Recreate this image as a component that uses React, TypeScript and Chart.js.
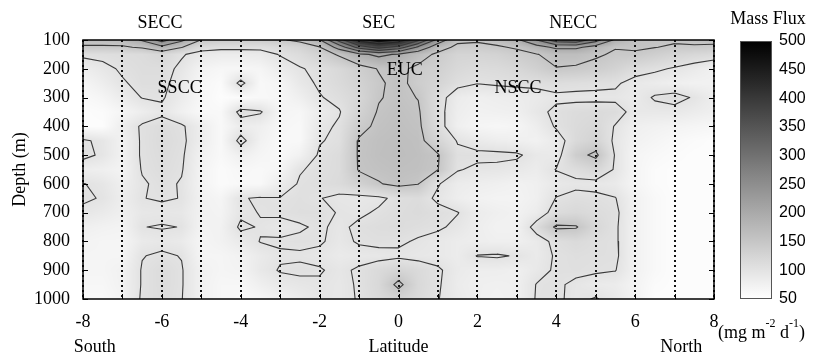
import { useEffect, useRef } from 'react';
import { Chart, registerables } from 'chart.js';

Chart.register(...registerables);

// ---------- data ----------
const LATS = [-8, -7.5, -7, -6.5, -6, -5.5, -5, -4.5, -4, -3.5, -3, -2.5, -2, -1.5, -1, -0.5, 0, 0.5, 1, 1.5, 2, 2.5, 3, 3.5, 4, 4.5, 5, 5.5, 6, 6.5, 7, 7.5, 8];
const DEPTHS = [100, 125, 150, 200, 250, 300, 350, 400, 450, 500, 550, 600, 650, 700, 750, 800, 850, 900, 950, 1000];

// mass flux (mg m-2 d-1), one array per depth, values along LATS
const FLUX_100 = [165, 165, 170, 205, 270, 210, 148, 140, 140, 140, 145, 160, 195, 320, 450, 500, 470, 360, 230, 160, 155, 165, 190, 250, 330, 340, 270, 190, 160, 155, 155, 160, 165];
const FLUX_125 = [145, 145, 145, 155, 185, 152, 112, 108, 108, 108, 115, 125, 148, 220, 320, 370, 330, 240, 170, 140, 140, 145, 155, 180, 210, 210, 180, 152, 155, 151, 145, 145, 140];
const FLUX_150 = [106, 108, 110, 112, 122, 103, 89, 84, 84, 87, 102, 112, 130, 155, 190, 210, 195, 168, 142, 125, 125, 128, 138, 148, 165, 165, 155, 145, 145, 135, 125, 120, 115];
const FLUX_200 = [81, 92, 104, 110, 110, 94, 71, 65, 65, 68, 84, 98, 106, 118, 135, 152, 158, 142, 132, 118, 112, 114, 120, 132, 148, 145, 138, 128, 112, 105, 97, 87, 76];
const FLUX_250 = [68, 81, 97, 108, 108, 87, 65, 58, 110, 62, 68, 90, 104, 115, 128, 145, 160, 138, 125, 108, 101, 104, 106, 108, 110, 108, 106, 104, 90, 84, 78, 74, 74];
const FLUX_300 = [60, 68, 84, 101, 103, 84, 65, 55, 58, 62, 65, 78, 98, 108, 122, 148, 157, 149, 112, 84, 78, 81, 84, 87, 95, 94, 94, 94, 87, 103, 110, 97, 81];
const FLUX_350 = [55, 58, 68, 81, 94, 76, 62, 62, 110, 103, 68, 65, 84, 98, 128, 153, 160, 154, 110, 81, 74, 76, 78, 92, 106, 112, 114, 112, 90, 90, 90, 84, 78];
const FLUX_400 = [55, 55, 81, 104, 112, 104, 81, 62, 84, 78, 65, 62, 92, 104, 140, 157, 162, 157, 112, 78, 68, 65, 68, 81, 103, 114, 120, 98, 78, 74, 71, 68, 65];
const FLUX_450 = [104, 94, 74, 104, 114, 106, 81, 62, 110, 74, 62, 62, 98, 106, 153, 161, 164, 161, 125, 98, 87, 81, 78, 74, 87, 116, 128, 94, 74, 68, 62, 58, 55];
const FLUX_500 = [108, 95, 74, 104, 112, 104, 74, 62, 78, 68, 62, 74, 104, 112, 154, 162, 165, 162, 153, 106, 106, 106, 104, 90, 87, 138, 158, 97, 68, 62, 58, 55, 55];
const FLUX_550 = [81, 78, 71, 102, 110, 102, 71, 58, 65, 62, 68, 98, 106, 112, 153, 158, 162, 160, 151, 102, 95, 94, 90, 84, 101, 110, 122, 97, 68, 58, 55, 55, 55];
const FLUX_600 = [101, 94, 78, 97, 106, 98, 71, 58, 62, 62, 84, 103, 108, 114, 130, 148, 158, 151, 102, 84, 81, 78, 74, 78, 90, 94, 92, 87, 68, 58, 55, 55, 55];
const FLUX_650 = [104, 98, 81, 99.5, 102, 99.5, 74, 68, 98, 103, 101, 106, 101, 94, 92, 94, 108, 112, 95, 81, 74, 71, 71, 78, 101, 108, 106, 101, 74, 62, 55, 55, 55];
const FLUX_700 = [94, 87, 78, 92, 94, 92, 74, 71, 95, 101, 104, 108, 108, 98, 95, 104, 110, 114, 108, 101, 84, 78, 74, 84, 112, 118, 112, 106, 74, 62, 55, 55, 55];
const FLUX_750 = [78, 74, 71, 99.5, 101.5, 99.5, 71, 74, 105, 98, 92, 97, 104, 94, 106, 110, 112, 108, 104, 94, 81, 74, 74, 112, 156, 153, 120, 104, 74, 62, 55, 55, 55];
const FLUX_800 = [71, 68, 68, 87, 92, 87, 68, 74, 87, 101, 103, 105, 103, 92, 103, 106, 104, 97, 90, 84, 81, 78, 78, 87, 108, 115, 108, 104, 74, 62, 55, 55, 55];
const FLUX_850 = [68, 68, 68, 99, 104, 99, 68, 68, 74, 87, 97, 97, 94, 87, 90, 92, 95, 92, 90, 84, 101, 103, 98, 87, 103, 108, 106, 105, 74, 62, 55, 55, 55];
const FLUX_900 = [68, 68, 74, 102, 112, 102, 74, 68, 71, 90, 102, 104, 102, 94, 104, 115, 125, 115, 104, 87, 81, 81, 78, 90, 104, 106, 104, 101, 74, 62, 55, 55, 55];
const FLUX_950 = [65, 65, 74, 102, 112, 102, 74, 65, 65, 78, 89, 94, 97, 92, 103, 118, 160, 118, 103, 84, 78, 76, 78, 101, 104, 95, 87, 84, 71, 58, 55, 55, 55];
const FLUX_1000 = [62, 62, 71, 104, 110, 101, 74, 65, 62, 65, 74, 84, 95, 92, 102, 115, 125, 115, 101, 87, 78, 74, 78, 102, 104, 94, 102, 89, 71, 55, 55, 55, 55];

const FLUX = [FLUX_100, FLUX_125, FLUX_150, FLUX_200, FLUX_250, FLUX_300, FLUX_350, FLUX_400, FLUX_450, FLUX_500,
  FLUX_550, FLUX_600, FLUX_650, FLUX_700, FLUX_750, FLUX_800, FLUX_850, FLUX_900, FLUX_950, FLUX_1000];

const CONTOUR_LEVELS = [100, 150, 200, 250, 300, 350, 400, 450];
const DEPTH_TICKS = [100, 200, 300, 400, 500, 600, 700, 800, 900, 1000];
const LAT_GRID = [-8, -7, -6, -5, -4, -3, -2, -1, 0, 1, 2, 3, 4, 5, 6, 7, 8];
const CB_TICKS = [50, 100, 150, 200, 250, 300, 350, 400, 450, 500];
const CB_MIN = 50;
const CB_MAX = 500;

const TOP_CURRENTS = ['SECC', 'SEC', 'NECC'];
const TOP_CURRENTS_LAT = [-6.05, -0.5, 4.43];
const IN_CURRENTS = ['SSCC', 'EUC', 'NSCC'];
const IN_CURRENTS_LAT = [-5.55, 0.16, 3.03];
const IN_CURRENTS_DEPTH = [269, 206, 268];

// ---------- helpers ----------
const SERIF = '"Liberation Serif", "Times New Roman", serif';
const SANS = '"Liberation Sans", Arial, sans-serif';

function grayOf(v: number) {
  const t = Math.min(1, Math.max(0, (v - CB_MIN) / (CB_MAX - CB_MIN)));
  return Math.round(255 * (1 - t));
}

function findCell(arr: number[], v: number): [number, number] {
  let i = 0;
  while (i < arr.length - 2 && v > arr[i + 1]) i++;
  const t = (v - arr[i]) / (arr[i + 1] - arr[i]);
  return [i, Math.min(1, Math.max(0, t))];
}

function contourPoints() {
  const pts: { x: number; y: number | null }[] = [];
  const nr = DEPTHS.length, nc = LATS.length;
  for (const L of CONTOUR_LEVELS) {
    for (let j = 0; j < nr - 1; j++) {
      for (let i = 0; i < nc - 1; i++) {
        const x0 = LATS[i], x1 = LATS[i + 1], y0 = DEPTHS[j], y1 = DEPTHS[j + 1];
        const a = FLUX[j][i], b = FLUX[j][i + 1], c = FLUX[j + 1][i + 1], d = FLUX[j + 1][i];
        const A = a > L, B = b > L, C = c > L, D = d > L;
        const p: Record<string, [number, number]> = {};
        if (A !== B) p.T = [x0 + (x1 - x0) * (L - a) / (b - a), y0];
        if (B !== C) p.R = [x1, y0 + (y1 - y0) * (L - b) / (c - b)];
        if (D !== C) p.B = [x0 + (x1 - x0) * (L - d) / (c - d), y1];
        if (A !== D) p.L = [x0, y0 + (y1 - y0) * (L - a) / (d - a)];
        const keys = Object.keys(p);
        const segs: [string, string][] = [];
        if (keys.length === 2) segs.push([keys[0], keys[1]]);
        else if (keys.length === 4) {
          const center = (a + b + c + d) / 4 > L;
          if (A === center) { segs.push(['T', 'R']); segs.push(['L', 'B']); }
          else { segs.push(['T', 'L']); segs.push(['R', 'B']); }
        }
        for (const [k1, k2] of segs) {
          pts.push({ x: p[k1][0], y: p[k1][1] });
          pts.push({ x: p[k2][0], y: p[k2][1] });
          pts.push({ x: p[k2][0], y: null });
        }
      }
    }
  }
  return pts;
}

const heatmapPlugin = {
  id: 'heatmap',
  beforeDraw(chart: any) {
    const { ctx, chartArea, scales } = chart;
    const xs = scales.x, ys = scales.y;
    const L = Math.round(chartArea.left), T = Math.round(chartArea.top);
    const W = Math.round(chartArea.right) - L, H = Math.round(chartArea.bottom) - T;
    if (W <= 0 || H <= 0) return;
    const img = ctx.createImageData(W, H);
    const ci = new Int32Array(W), ct = new Float32Array(W);
    for (let px = 0; px < W; px++) {
      const [i, t] = findCell(LATS, xs.getValueForPixel(L + px + 0.5));
      ci[px] = i; ct[px] = t;
    }
    for (let py = 0; py < H; py++) {
      const [j, u] = findCell(DEPTHS, ys.getValueForPixel(T + py + 0.5));
      const r0 = FLUX[j], r1 = FLUX[j + 1];
      for (let px = 0; px < W; px++) {
        const i = ci[px], t = ct[px];
        const top = r0[i] * (1 - t) + r0[i + 1] * t;
        const bot = r1[i] * (1 - t) + r1[i + 1] * t;
        const g = grayOf(top * (1 - u) + bot * u);
        const k = (py * W + px) * 4;
        img.data[k] = g; img.data[k + 1] = g; img.data[k + 2] = g; img.data[k + 3] = 255;
      }
    }
    ctx.putImageData(img, L, T);
  },
};

const overlayPlugin = {
  id: 'overlay',
  afterDraw(chart: any) {
    const { ctx, chartArea: a, scales } = chart;
    const xs = scales.x, ys = scales.y;
    ctx.save();
    ctx.strokeStyle = '#000';
    ctx.lineWidth = 1;
    const seg = (x1: number, y1: number, x2: number, y2: number) => {
      ctx.beginPath(); ctx.moveTo(x1, y1); ctx.lineTo(x2, y2); ctx.stroke();
    };
    for (const d of DEPTH_TICKS) {
      const py = Math.round(ys.getPixelForValue(d)) + 0.5;
      seg(a.left, py, a.left + 5, py);
      seg(a.right - 5, py, a.right, py);
    }
    for (const l of LAT_GRID) {
      const px = Math.round(xs.getPixelForValue(l)) + 0.5;
      seg(px, a.bottom, px, a.bottom - 5);
    }
    ctx.lineWidth = 1.5;
    ctx.strokeRect(a.left, a.top, a.right - a.left, a.bottom - a.top);

    ctx.fillStyle = '#000';
    ctx.font = `18px ${SERIF}`;
    ctx.textAlign = 'center';
    ctx.textBaseline = 'middle';
    TOP_CURRENTS.forEach((t, i) => ctx.fillText(t, xs.getPixelForValue(TOP_CURRENTS_LAT[i]), a.top - 17));
    IN_CURRENTS.forEach((t, i) => ctx.fillText(t, xs.getPixelForValue(IN_CURRENTS_LAT[i]), ys.getPixelForValue(IN_CURRENTS_DEPTH[i])));
    ctx.fillText('South', xs.getPixelForValue(-7.7), 347);
    ctx.fillText('Latitude', xs.getPixelForValue(0), 347);
    ctx.fillText('North', xs.getPixelForValue(7.17), 347);

    ctx.save();
    ctx.translate(20, (a.top + a.bottom) / 2);
    ctx.rotate(-Math.PI / 2);
    ctx.fillText('Depth (m)', 0, 0);
    ctx.restore();

    // colour bar
    const cbL = 740, cbR = 772, cbT = a.top + 1, cbB = a.bottom;
    const grad = ctx.createLinearGradient(0, cbB, 0, cbT);
    for (let v = CB_MIN; v <= CB_MAX; v += 25) {
      const g = grayOf(v);
      grad.addColorStop((v - CB_MIN) / (CB_MAX - CB_MIN), `rgb(${g},${g},${g})`);
    }
    ctx.fillStyle = grad;
    ctx.fillRect(cbL, cbT, cbR - cbL, cbB - cbT);
    ctx.strokeStyle = '#555';
    ctx.lineWidth = 1;
    ctx.strokeRect(cbL + 0.5, cbT + 0.5, cbR - cbL - 1, cbB - cbT - 1);

    ctx.fillStyle = '#000';
    ctx.font = `16px ${SANS}`;
    ctx.textAlign = 'left';
    for (const v of CB_TICKS) {
      const py = cbB - (v - CB_MIN) / (CB_MAX - CB_MIN) * (cbB - cbT);
      ctx.fillText(String(v), 779, py);
    }
    ctx.font = `18px ${SERIF}`;
    ctx.textAlign = 'center';
    ctx.fillText('Mass Flux', 768, 19);

    // units (mg m-2 d-1)
    ctx.textAlign = 'left';
    let ux = 718;
    const base = 333;
    const parts: [string, boolean][] = [['(mg m', false], ['-2', true], [' d', false], ['-1', true], [')', false]];
    for (const [txt, sup] of parts) {
      ctx.font = sup ? `12px ${SERIF}` : `18px ${SERIF}`;
      ctx.fillText(txt, ux, sup ? base - 9 : base);
      ux += ctx.measureText(txt).width;
    }
    ctx.restore();
  },
};

export default function App() {
  const ref = useRef<HTMLCanvasElement>(null);
  useEffect(() => {
    if (!ref.current) return;
    const chart = new Chart(ref.current, {
      type: 'scatter',
      data: {
        datasets: [{
          data: contourPoints() as any,
          showLine: true,
          borderColor: '#3a3a3a',
          borderWidth: 1.1,
          pointRadius: 0,
          pointHoverRadius: 0,
          spanGaps: false,
          borderCapStyle: 'round',
          borderJoinStyle: 'round',
          tension: 0,
        } as any],
      },
      options: {
        responsive: false,
        animation: false,
        devicePixelRatio: 1,
        events: [],
        layout: { padding: { top: 40, right: 99, left: 0, bottom: 0 } },
        plugins: { legend: { display: false }, tooltip: { enabled: false } },
        scales: {
          x: {
            type: 'linear', min: -8, max: 8,
            ticks: {
              stepSize: 1, autoSkip: false, maxRotation: 0, padding: 12, color: '#000',
              font: { family: SERIF, size: 18 },
              callback: (v: any) => (Math.round(v) % 2 === 0 ? String(Math.round(v)) : ''),
            },
            grid: { display: true, drawOnChartArea: true, drawTicks: false, color: '#111', lineWidth: 2 },
            border: { display: false, dash: [2, 3] },
            afterFit: (s: any) => { s.height = 57; },
          },
          y: {
            type: 'linear', reverse: true, min: 100, max: 1000,
            ticks: {
              stepSize: 100, padding: 13, color: '#000', font: { family: SERIF, size: 18 },
              callback: (v: any) => String(Math.round(v)),
            },
            grid: { display: false, drawTicks: false },
            border: { display: false },
            afterFit: (s: any) => { s.width = 83; },
          },
        },
      } as any,
      plugins: [heatmapPlugin, overlayPlugin],
    });
    return () => chart.destroy();
  }, []);
  return (
    <div style={{ position: 'fixed', left: 0, top: 0, width: 813, height: 356, background: '#fff' }}>
      <canvas ref={ref} width={813} height={356} style={{ width: 813, height: 356, display: 'block' }} />
    </div>
  );
}
